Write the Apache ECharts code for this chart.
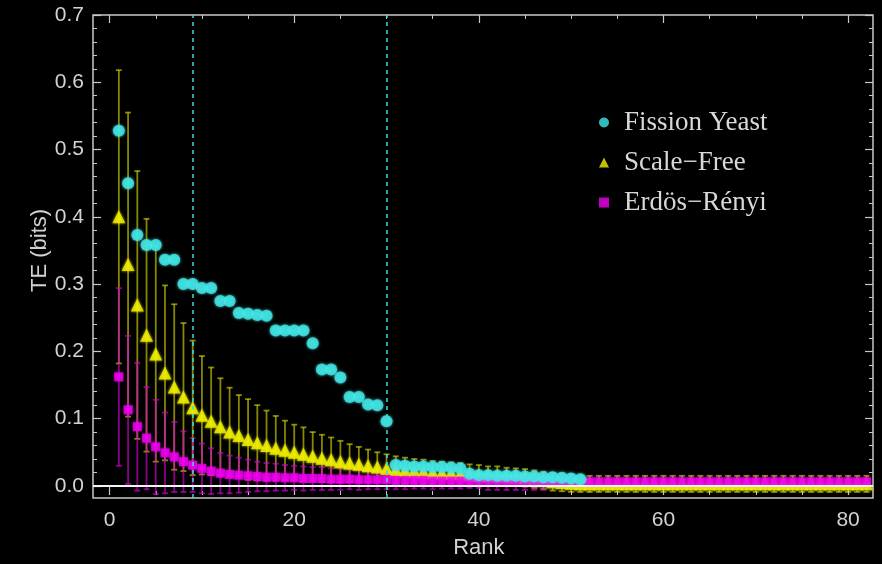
<!DOCTYPE html>
<html>
<head>
<meta charset="utf-8">
<title>TE by rank</title>
<script src="https://cdn.jsdelivr.net/npm/echarts@6.0.0/dist/echarts.min.js"></script>
<style>
html, body { margin: 0; padding: 0; background: #000; }
#main { width: 882px; height: 564px; }
</style>
</head>
<body>
<div id="main"></div>
<script>
// values, index 0 = rank 1
var fissionYeast = [
    0.528, 0.450, 0.373, 0.358, 0.358, 0.336, 0.336, 0.300, 0.300, 0.294,
    0.294, 0.275, 0.275, 0.257, 0.256, 0.254, 0.253, 0.231, 0.231, 0.231,
    0.231, 0.212, 0.173, 0.173, 0.161, 0.132, 0.132, 0.121, 0.120, 0.096,
    0.031, 0.030, 0.029, 0.029, 0.028, 0.028, 0.027, 0.026, 0.018, 0.016,
    0.016, 0.015, 0.015, 0.015, 0.014, 0.014, 0.013, 0.013, 0.012, 0.011,
    0.010
];
var scaleFree = [
    0.400, 0.329, 0.269, 0.224, 0.196, 0.168, 0.147, 0.132, 0.116, 0.105,
    0.096, 0.088, 0.080, 0.075, 0.069, 0.064, 0.060, 0.056, 0.053, 0.050,
    0.047, 0.044, 0.041, 0.039, 0.036, 0.034, 0.032, 0.030, 0.028, 0.026,
    0.024, 0.023, 0.022, 0.021, 0.020, 0.019, 0.019, 0.018, 0.017, 0.016,
    0.015, 0.015, 0.014, 0.013, 0.012, 0.010, 0.008, 0.006, 0.005, 0.004,
    0.003, 0.003, 0.003, 0.003, 0.003, 0.003, 0.003, 0.003, 0.003, 0.003,
    0.003, 0.003, 0.003, 0.003, 0.003, 0.003, 0.003, 0.003, 0.003, 0.003,
    0.003, 0.003, 0.003, 0.003, 0.003, 0.003, 0.003, 0.003, 0.003, 0.003,
    0.003, 0.003
];
var scaleFreeErr = [
    0.218, 0.226, 0.199, 0.173, 0.160, 0.130, 0.123, 0.110, 0.100, 0.088,
    0.080, 0.072, 0.066, 0.060, 0.060, 0.056, 0.052, 0.048, 0.044, 0.041,
    0.040, 0.036, 0.035, 0.033, 0.031, 0.028, 0.026, 0.024, 0.022, 0.021,
    0.020, 0.019, 0.018, 0.018, 0.017, 0.017, 0.016, 0.016, 0.015, 0.015,
    0.014, 0.014, 0.013, 0.013, 0.013, 0.013, 0.013, 0.013, 0.013, 0.013,
    0.012, 0.012, 0.012, 0.012, 0.012, 0.012, 0.012, 0.012, 0.012, 0.012,
    0.012, 0.012, 0.012, 0.012, 0.012, 0.012, 0.012, 0.012, 0.012, 0.012,
    0.012, 0.012, 0.012, 0.012, 0.012, 0.012, 0.012, 0.012, 0.012, 0.012,
    0.012, 0.012
];
var erdosRenyi = [
    0.162, 0.113, 0.088, 0.071, 0.058, 0.049, 0.043, 0.036, 0.031, 0.026,
    0.022, 0.019, 0.017, 0.016, 0.015, 0.014, 0.013, 0.013, 0.012, 0.012,
    0.011, 0.011, 0.011, 0.010, 0.010, 0.010, 0.009, 0.009, 0.009, 0.009,
    0.008, 0.008, 0.008, 0.008, 0.007, 0.007, 0.007, 0.007, 0.007, 0.007,
    0.006, 0.006, 0.006, 0.006, 0.006, 0.006, 0.006, 0.006, 0.006, 0.006,
    0.006, 0.006, 0.006, 0.006, 0.006, 0.006, 0.006, 0.006, 0.006, 0.006,
    0.006, 0.006, 0.006, 0.006, 0.006, 0.006, 0.006, 0.006, 0.006, 0.006,
    0.006, 0.006, 0.006, 0.006, 0.006, 0.006, 0.006, 0.006, 0.006, 0.006,
    0.006, 0.006
];
var erdosRenyiErr = [
    0.132, 0.110, 0.095, 0.076, 0.070, 0.060, 0.052, 0.045, 0.040, 0.037,
    0.034, 0.030, 0.028, 0.026, 0.024, 0.022, 0.021, 0.020, 0.019, 0.018,
    0.018, 0.017, 0.017, 0.016, 0.016, 0.015, 0.015, 0.014, 0.014, 0.014,
    0.013, 0.013, 0.012, 0.012, 0.012, 0.011, 0.011, 0.011, 0.010, 0.010,
    0.012, 0.012, 0.012, 0.012, 0.012, 0.012, 0.012, 0.004, 0.004, 0.004,
    0.004, 0.004, 0.004, 0.004, 0.004, 0.004, 0.004, 0.004, 0.004, 0.004,
    0.004, 0.004, 0.004, 0.004, 0.004, 0.004, 0.004, 0.004, 0.004, 0.004,
    0.004, 0.004, 0.004, 0.004, 0.004, 0.004, 0.004, 0.004, 0.004, 0.004,
    0.004, 0.004
];
var cutoffRanks = [9, 30];
var seriesNames = ['Fission Yeast', 'Scale\u2212Free', 'Erd\u00f6s\u2212R\u00e9nyi'];

// frame range and the range that carries ticks
var X_MIN = -1.8, X_MAX = 82.7, Y_MIN = -0.018, Y_MAX = 0.7;
var X_T0 = 0, X_T1 = 80, Y_T0 = 0, Y_T1 = 0.7;

var frame = { left: 93, right: 9, top: 15, bottom: 66 };
var W = 882 - frame.left - frame.right;
var H = 564 - frame.top - frame.bottom;
var pxX = W / (X_MAX - X_MIN);
var pxY = H / (Y_MAX - Y_MIN);

function points(vals) {
    return vals.map(function (v, i) { return [i + 1, v]; });
}
function bars(vals, errs) {
    return vals.map(function (v, i) { return [i + 1, v - errs[i], v + errs[i]]; });
}
function errorBars(color, w) {
    return function (params, api) {
        var x = api.value(0);
        var lo = api.coord([x, api.value(1)]);
        var hi = api.coord([x, api.value(2)]);
        var c = 3;
        var st = { stroke: color, lineWidth: w };
        return {
            type: 'group',
            children: [
                { type: 'line', shape: { x1: lo[0], y1: lo[1], x2: hi[0], y2: hi[1] }, style: st },
                { type: 'line', shape: { x1: hi[0] - c, y1: hi[1], x2: hi[0] + c, y2: hi[1] }, style: st },
                { type: 'line', shape: { x1: lo[0] - c, y1: lo[1], x2: lo[0] + c, y2: lo[1] }, style: st }
            ]
        };
    };
}

var tickColor = '#c8c8c8';
var textColor = '#d2d2d2';
var labelFont = { color: textColor, fontFamily: 'Liberation Sans', fontSize: 21 };
var hidden = {
    type: 'value',
    axisLine: { show: false, onZero: false }, axisTick: { show: false },
    axisLabel: { show: false }, splitLine: { show: false }
};
function tickAxis(extra, split) {
    var a = {
        type: 'value',
        axisLine: { show: false, onZero: false },
        axisTick: { show: true, inside: true, length: 8, lineStyle: { color: tickColor, width: 1.2 } },
        minorTick: { show: true, splitNumber: split, length: 4, lineStyle: { color: tickColor, width: 1 } },
        splitLine: { show: false },
        axisLabel: { show: false }
    };
    for (var k in extra) a[k] = extra[k];
    return a;
}

var myChart = echarts.init(document.getElementById('main'));
var option = {
    backgroundColor: '#000',
    animation: false,
    grid: [
        // data + frame
        { left: frame.left, right: frame.right, top: frame.top, bottom: frame.bottom,
          show: true, borderColor: tickColor, borderWidth: 1.5, backgroundColor: 'transparent' },
        // x ticks: 0..80 wide, frame tall
        { left: frame.left + (X_T0 - X_MIN) * pxX, right: frame.right + (X_MAX - X_T1) * pxX,
          top: frame.top, bottom: frame.bottom },
        // y ticks: frame wide, 0..0.7 tall
        { left: frame.left, right: frame.right,
          top: frame.top + (Y_MAX - Y_T1) * pxY, bottom: frame.bottom + (Y_T0 - Y_MIN) * pxY }
    ],
    xAxis: [
        Object.assign({ gridIndex: 0, min: X_MIN, max: X_MAX }, hidden),
        tickAxis({
            gridIndex: 1, position: 'bottom', min: X_T0, max: X_T1, interval: 20,
            axisLabel: Object.assign({ show: true, margin: 15 }, labelFont),
            name: 'Rank', nameLocation: 'middle', nameGap: 42, nameMoveOverlap: false,
            nameTextStyle: { color: textColor, fontFamily: 'Liberation Sans', fontSize: 22 }
        }, 4),
        tickAxis({ gridIndex: 1, position: 'top', min: X_T0, max: X_T1, interval: 20 }, 4),
        Object.assign({ gridIndex: 2, min: X_MIN, max: X_MAX }, hidden)
    ],
    yAxis: [
        Object.assign({ gridIndex: 0, min: Y_MIN, max: Y_MAX }, hidden),
        Object.assign({ gridIndex: 1, min: Y_MIN, max: Y_MAX }, hidden),
        tickAxis({
            gridIndex: 2, position: 'left', min: Y_T0, max: Y_T1, interval: 0.1,
            axisLabel: Object.assign({ show: true, margin: 9, formatter: function (v) { return v.toFixed(1); } }, labelFont),
            name: 'TE (bits)', nameLocation: 'middle', nameGap: 42, nameMoveOverlap: false,
            nameTextStyle: { color: textColor, fontFamily: 'Liberation Sans', fontSize: 22 }
        }, 5),
        tickAxis({ gridIndex: 2, position: 'right', min: Y_T0, max: Y_T1, interval: 0.1 }, 5)
    ],
    legend: {
        orient: 'vertical',
        left: 594,
        top: 104,
        itemGap: 13,
        itemWidth: 10,
        itemHeight: 10,
        textStyle: { color: '#d8d8d8', fontFamily: 'Liberation Serif', fontSize: 27, padding: [0, 0, 0, 10] },
        data: [
            { name: seriesNames[0], icon: 'circle' },
            { name: seriesNames[1], icon: 'triangle' },
            { name: seriesNames[2], icon: 'rect' }
        ]
    },
    series: [
        {
            type: 'custom', name: 'sfErr', silent: true, clip: true,
            xAxisIndex: 0, yAxisIndex: 0,
            data: bars(scaleFree, scaleFreeErr),
            encode: { x: 0, y: [1, 2] },
            renderItem: errorBars('rgba(225, 225, 0, 0.6)', 1.8)
        },
        {
            type: 'custom', name: 'erErr', silent: true, clip: true,
            xAxisIndex: 0, yAxisIndex: 0,
            data: bars(erdosRenyi, erdosRenyiErr),
            encode: { x: 0, y: [1, 2] },
            renderItem: errorBars('rgba(215, 0, 215, 0.65)', 1.8)
        },
        {
            type: 'scatter', name: seriesNames[1],
            xAxisIndex: 0, yAxisIndex: 0,
            symbol: 'triangle', symbolSize: 13,
            itemStyle: { color: '#f0f000', shadowBlur: 3, shadowColor: '#f0f000' },
            data: points(scaleFree),
            markLine: {
                silent: true, symbol: ['none', 'none'], label: { show: false },
                lineStyle: { color: '#46d8d8', type: [4, 4], width: 1.5 },
                data: cutoffRanks.map(function (r) { return { xAxis: r }; })
            }
        },
        {
            type: 'scatter', name: seriesNames[2],
            xAxisIndex: 0, yAxisIndex: 0,
            symbol: 'rect', symbolSize: 9,
            itemStyle: { color: '#f000f0', shadowBlur: 3, shadowColor: '#f000f0' },
            data: points(erdosRenyi)
        },
        {
            type: 'scatter', name: seriesNames[0],
            xAxisIndex: 0, yAxisIndex: 0,
            symbol: 'circle', symbolSize: 12,
            itemStyle: { color: '#44e6e6', shadowBlur: 3, shadowColor: '#44e6e6' },
            data: points(fissionYeast),
            markLine: {
                silent: true, symbol: ['none', 'none'], label: { show: false },
                lineStyle: { color: '#f4f4f4', type: 'solid', width: 2 },
                data: [{ yAxis: 0 }]
            }
        }
    ]
};
myChart.setOption(option);
</script>
</body>
</html>
